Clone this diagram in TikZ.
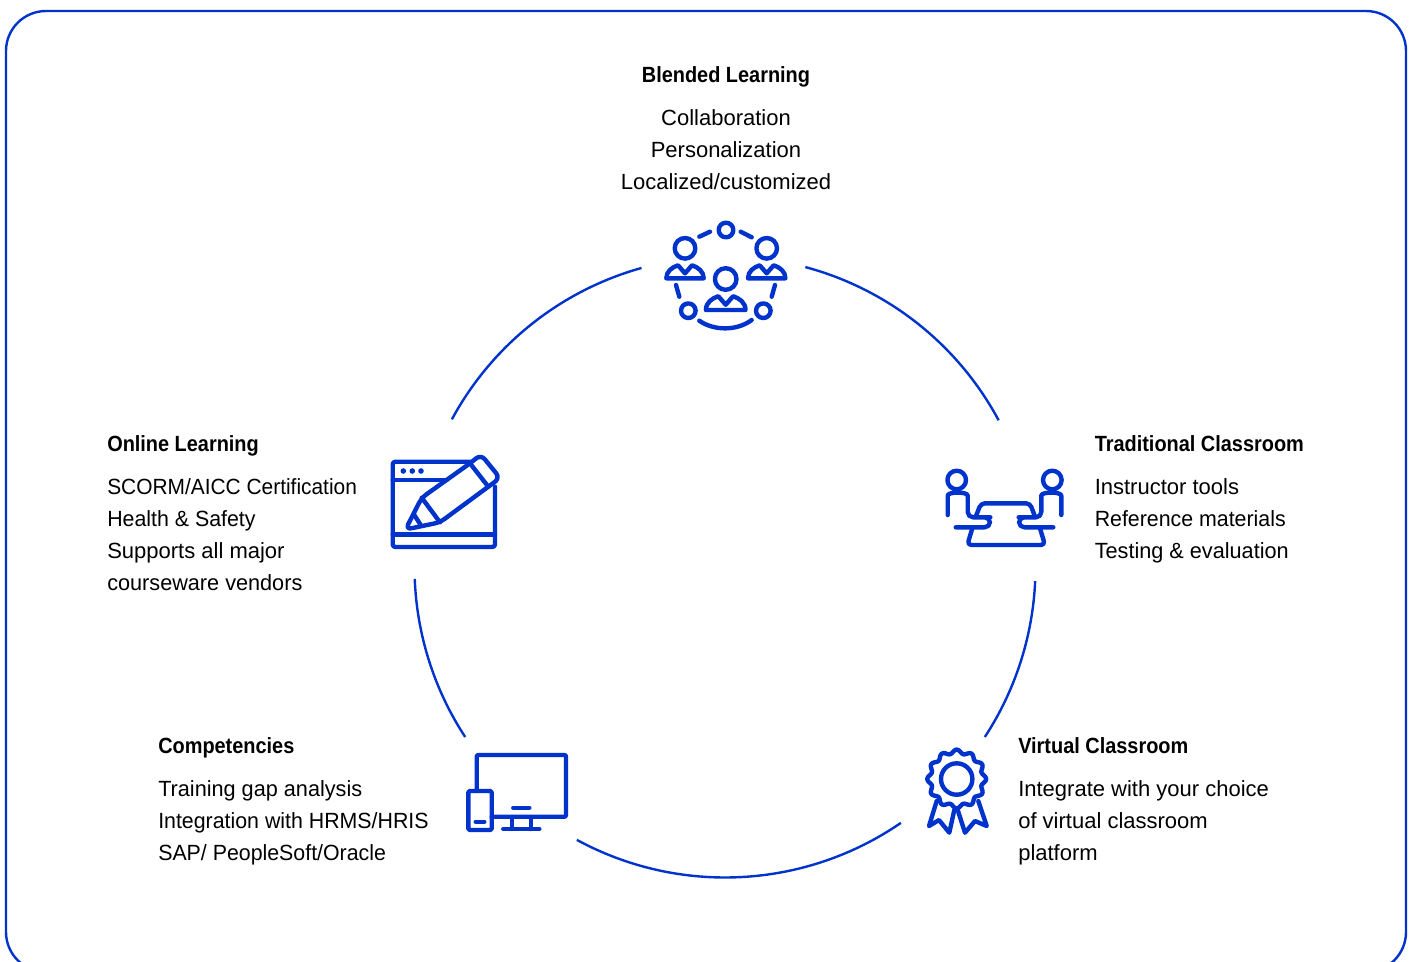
\documentclass[tikz,border=0pt]{standalone}
\usepackage{fontspec}
\setmainfont{Liberation Sans}
\newfontface\headface[FakeStretch=0.905]{Liberation Sans Bold}
\newfontface\narrowA[FakeStretch=0.95]{Liberation Sans}
\newfontface\narrowB[FakeStretch=0.97]{Liberation Sans}
\newfontface\narrowC[FakeStretch=0.985]{Liberation Sans}
\definecolor{brand}{HTML}{0033CC}
\newcommand{\firstline}{\rule{0pt}{12pt}}
\newcommand{\bust}[3]{\begin{scope}[shift={(#1,#2)},scale=#3]
 \draw[icon] (-18.7,0) .. controls (-18.7,-7) and (-13,-11) .. (-7,-13) -- (0,-5) -- (7,-13) .. controls (13,-11) and (18.7,-7) .. (18.7,0) -- cycle;
 \end{scope}}
\tikzset{
 icon/.style={draw=brand,line width=3.3pt,line join=round,line cap=round},
 ring/.style={draw=brand,line width=1.8pt},
 heading/.style={font=\fontsize{16.5pt}{24pt}\selectfont\headface,inner sep=0pt,anchor=base west,text=black},
 body/.style={font=\fontsize{16.5pt}{24pt}\selectfont,inner sep=0pt,anchor=north west,align=left,text=black},
}
\begin{document}
\begin{tikzpicture}[x=0.75pt,y=-0.75pt]
\useasboundingbox (0,0) rectangle (1413,961);
\clip (0,0) rectangle (1413,961);
\draw[ring,rounded corners=30pt] (6,11) rectangle (1406,972);
% ring arcs
\coordinate (c) at (725,567);
\draw[ring] (c) ++(254.4:310.5) arc[start angle=254.4,end angle=208.4,radius=310.5];
\draw[ring] (c) ++(-75:310.5) arc[start angle=-75,end angle=-28.2,radius=310.5];
\draw[ring] (c) ++(2.6:310.5) arc[start angle=2.6,end angle=33.2,radius=310.5];
\draw[ring] (c) ++(55.5:310.5) arc[start angle=55.5,end angle=118.5,radius=310.5];
\draw[ring] (c) ++(146.8:310.5) arc[start angle=146.8,end angle=177.8,radius=310.5];
% texts
\node[heading,anchor=base] (blendedh) at (726,82) {Blended Learning};
\node[body,anchor=north,align=center] (blendedb) at (726,109) {\firstline Collaboration\\Personalization\\Localized/customized};
\node[heading] (onlineh) at (107,451) {Online Learning};
\node[body] (onlineb) at (107,478) {\firstline {\narrowA SCORM/AICC Certification}\\{\narrowB Health \& Safety}\\Supports all major\\{\narrowC courseware vendors}};
\node[heading] (tradh) at (1094.5,451) {Traditional Classroom};
\node[body] (tradb) at (1094.5,478) {\firstline Instructor tools\\{\narrowB Reference materials}\\{\narrowC Testing \& evaluation}};
\node[heading] (comph) at (158,753) {Competencies};
\node[body] (compb) at (158,780) {\firstline {\narrowC Training gap analysis}\\{\narrowB Integration with HRMS/HRIS}\\{\narrowB SAP/ PeopleSoft/Oracle}};
\node[heading] (virth) at (1018,753) {Virtual Classroom};
\node[body] (virtb) at (1018,780) {\firstline Integrate with your choice\\of virtual classroom\\platform};
% blended icon
\draw[icon] (726,230) circle[radius=7.3];
\draw[icon] (685,248.3) circle[radius=10.3];
\draw[icon] (766.7,248.3) circle[radius=10.3];
\draw[icon] (725.7,279) circle[radius=10.8];
\draw[icon] (688.3,310.7) circle[radius=7.3];
\draw[icon] (763.3,310.7) circle[radius=7.3];
\bust{685}{278.3}{1}
\bust{766.7}{278.3}{1}
\bust{725.7}{310}{1.06}
\draw[icon] (699.3,236.7) -- (710,231.7);
\draw[icon] (740.7,231.7) -- (751.7,237.3);
\draw[icon] (676,285) -- (679.3,296.7);
\draw[icon] (775,285) -- (771.7,296.7);
\draw[icon] (699.3,320.7) .. controls (714,331) and (737,331) .. (751.7,320);
% pencil icon
\draw[icon,rounded corners=2pt] (470,461.7) -- (392.7,461.7) -- (392.7,547) -- (495,547) -- (495,486.7);
\draw[icon] (392.7,480) -- (446.7,480);
\draw[icon] (392.7,534.3) -- (495,534.3);
\fill[brand] (403.3,471) circle[radius=2.8] (412.3,471) circle[radius=2.8] (421,471) circle[radius=2.8];
\draw[icon,rounded corners=4.5pt] (405.5,529.5) -- (421.7,497.7) -- (470,463.3) -- (481,454.5) -- (500,478) -- (488.3,486.7) -- (440,522.3) -- cycle;
\draw[icon] (421.7,497.7) -- (440,522.3);
\draw[icon] (470,463.3) -- (488.3,486.7);
\draw[icon] (414.3,515) -- (420.7,525);
% classroom icon
\draw[icon] (956.7,480) circle[radius=9.3];
\draw[icon] (1052.3,480) circle[radius=9.3];
\draw[icon,rounded corners=4pt] (947.7,515) -- (947.7,501) .. controls (947.7,491.5) and (967.7,491.5) .. (967.7,501) -- (967.7,517.3) -- (985,517.3) -- (990,517.3) -- (990,527.3) -- (955.7,527.3);
\draw[icon,rounded corners=4pt] (1061.3,515) -- (1061.3,501) .. controls (1061.3,491.5) and (1041.3,491.5) .. (1041.3,501) -- (1041.3,517.3) -- (1024,517.3) -- (1019,517.3) -- (1019,527.3) -- (1053.3,527.3);
\draw[icon,rounded corners=3pt] (975.7,516.7) -- (981,503.3) -- (1030,503.3) -- (1035,516.7);
\draw[icon,rounded corners=3pt] (972.3,528.3) -- (967.3,545) -- (1045,545) -- (1040,528.3);
% devices icon
\draw[icon,rounded corners=1pt] (476.7,791) -- (476.7,755) -- (566,755) -- (566,816.7) -- (491.7,816.7);
\draw[icon,rounded corners=1pt] (468.3,791) rectangle (491.7,830);
\draw[icon] (475.7,821.7) -- (484.3,821.7);
\draw[icon] (513.3,807.7) -- (529.3,807.7);
\draw[icon] (511.7,817) -- (511.7,829);
\draw[icon] (530.7,817) -- (530.7,829);
\draw[icon] (503.3,829) -- (539.3,829);
% badge icon
\draw[icon] plot[domain=0:360,samples=145,smooth] ({956.7+(27.5+1.9*cos(12*\x))*cos(\x)},{779+(27.5+1.9*cos(12*\x))*sin(\x)}) -- cycle;
\draw[icon] (956.7,779) circle[radius=15.7];
\draw[icon] (936.7,801) -- (929,826) -- (939,820) -- (949.3,832.7) -- (954.3,810);
\draw[icon] (978.3,801) -- (986.7,826) -- (975,821) -- (965,832.7) -- (957.7,810);
\end{tikzpicture}
\end{document}
